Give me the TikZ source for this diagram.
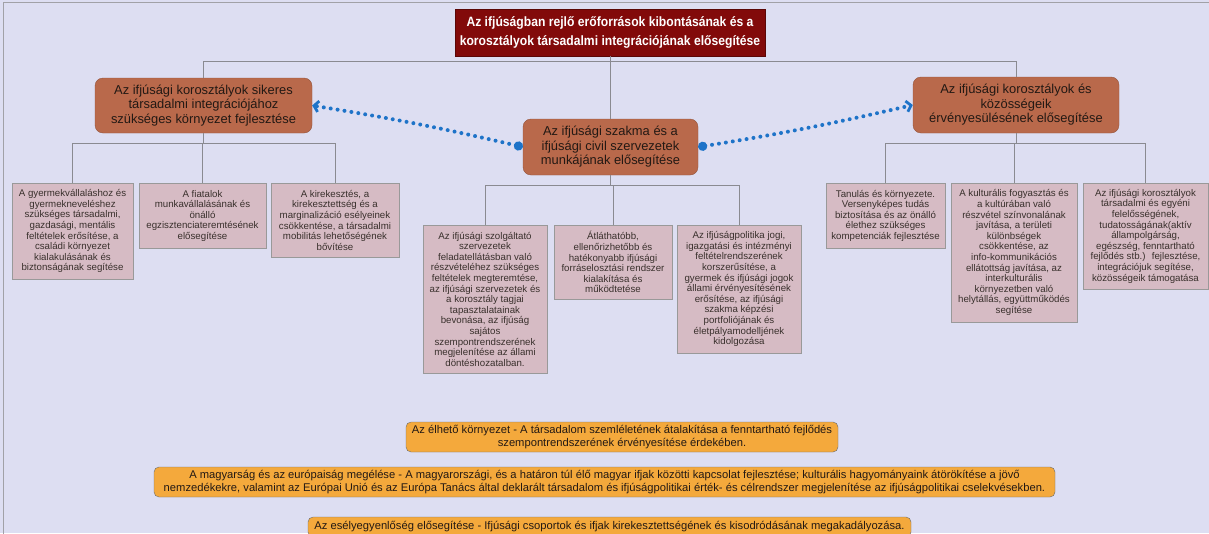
\documentclass[tikz,border=0pt]{standalone}
\usepackage{fontspec}
\setmainfont{Liberation Sans}
\newfontfamily\topfont[FakeStretch=0.9]{Liberation Sans}
\usetikzlibrary{arrows.meta,shadows}
\definecolor{bg}{RGB}{221,222,242}
\definecolor{darkred}{RGB}{130,10,10}
\definecolor{brownbox}{RGB}{185,105,75}
\definecolor{pinkbox}{RGB}{214,187,196}
\definecolor{orangebox}{RGB}{244,169,60}
\definecolor{treeline}{RGB}{138,138,145}
\definecolor{dotblue}{RGB}{30,115,200}
\definecolor{txtdark}{RGB}{35,25,20}
\tikzset{
  topbox/.style={draw=darkred!70!black, fill=darkred, text=white, align=center,
    font=\topfont\bfseries\fontsize{13.5}{19}\selectfont, inner sep=2pt},
  mainbox/.style={draw=brownbox!80!black, fill=brownbox, rounded corners=8pt, text=txtdark,
    align=center, font=\fontsize{12.9}{14.5}\selectfont, inner sep=2pt},
  leafbox/.style={draw=gray!80, fill=pinkbox, text=txtdark!90, align=center, anchor=north,
    font=\fontsize{9.7}{10.6}\selectfont, inner sep=1pt,
    drop shadow={shadow xshift=1.2pt, shadow yshift=-1.2pt, opacity=0.35}},
  goalbox/.style={draw=gray!85!black, fill=orangebox, rounded corners=5pt, text=txtdark,
    align=center, inner sep=1pt, font=\fontsize{11.2}{12.5}\selectfont},
  tree/.style={draw=treeline, line width=0.8pt},
  dotconn/.style={draw=dotblue, line width=4pt, dash pattern=on 0pt off 7pt, line cap=round,
    arrows={Circle[length=9pt,fill=dotblue]-Straight Barb[length=4.5pt,width=11pt,line width=2.8pt]}}
}
\begin{document}
\begin{tikzpicture}[x=1pt,y=-1pt]
\useasboundingbox (0,0) rectangle (1209,533);
\clip (0,0) rectangle (1209,533);
\fill[bg] (0,0) rectangle (1209,533);
\draw[treeline!80] (3.5,540) -- (3.5,2.5) -- (1209,2.5);

% main nodes
\node[topbox, minimum width=310, minimum height=47] (top) at (610,32.5)
  {Az ifjúságban rejlő erőforrások kibontásának és a\\korosztályok társadalmi integrációjának elősegítése};
\node[mainbox, minimum width=217, minimum height=55] (L) at (203.5,105.5)
  {Az ifjúsági korosztályok sikeres\\társadalmi integrációjához\\szükséges környezet fejlesztése};
\node[mainbox, minimum width=175, minimum height=56] (C) at (610.5,147)
  {Az ifjúsági szakma és a\\ifjúsági civil szervezetek\\munkájának elősegítése};
\node[mainbox, minimum width=206, minimum height=56] (R) at (1016,105)
  {Az ifjúsági korosztályok és\\közösségeik\\érvényesülésének elősegítése};

% leaf nodes
\node[leafbox, minimum width=121, minimum height=96] (L1) at (72.5,183)
  {A gyermekvállaláshoz és\\gyermekneveléshez\\szükséges társadalmi,\\gazdasági, mentális\\feltételek erősítése, a\\családi környezet\\kialakulásának és\\biztonságának segítése};
\node[leafbox, minimum width=127, minimum height=65] (L2) at (202.5,183)
  {A fiatalok\\munkavállalásának és\\önálló\\egzisztenciateremtésének\\elősegítése};
\node[leafbox, minimum width=128, minimum height=74] (L3) at (335,183)
  {A kirekesztés, a\\kirekesztettség és a\\marginalizáció esélyeinek\\csökkentése, a társadalmi\\mobilitás lehetőségének\\bővítése};
\node[leafbox, minimum width=124, minimum height=148] (C1) at (485,225)
  {Az ifjúsági szolgáltató\\szervezetek\\feladatellátásban való\\részvételéhez szükséges\\feltételek megteremtése,\\az ifjúsági szervezetek és\\a korosztály tagjai\\tapasztalatainak\\bevonása, az ifjúság\\sajátos\\szempontrendszerének\\megjelenítése az állami\\döntéshozatalban.};
\node[leafbox, minimum width=118, minimum height=74] (C2) at (613,225)
  {Átláthatóbb,\\ellenőrizhetőbb és\\hatékonyabb ifjúsági\\forráselosztási rendszer\\kialakítása és\\működtetése};
\node[leafbox, minimum width=124, minimum height=128] (C3) at (739,225)
  {Az ifjúságpolitika jogi,\\igazgatási és intézményi\\feltételrendszerének\\korszerűsítése, a\\gyermek és ifjúsági jogok\\állami érvényesítésének\\erősítése, az ifjúsági\\szakma képzési\\portfoliójának és\\életpályamodelljének\\kidolgozása};
\node[leafbox, minimum width=119, minimum height=65] (R1) at (885.5,183)
  {Tanulás és környezete.\\Versenyképes tudás\\biztosítása és az önálló\\élethez szükséges\\kompetenciák fejlesztése};
\node[leafbox, minimum width=126, minimum height=139] (R2) at (1014,183)
  {A kulturális fogyasztás és\\a kultúrában való\\részvétel színvonalának\\javítása, a területi\\különbségek\\csökkentése, az\\info-kommunikációs\\ellátottság javítása, az\\interkulturális\\környezetben való\\helytállás, együttműködés\\segítése};
\node[leafbox, minimum width=125, minimum height=106] (R3) at (1145.5,183)
  {Az ifjúsági korosztályok\\társadalmi és egyéni\\felelősségének,\\tudatosságának(aktív\\állampolgárság,\\egészség, fenntartható\\fejlődés stb.)~ fejlesztése,\\integrációjuk segítése,\\közösségeik támogatása};

% goal boxes
\node[goalbox, minimum width=432, minimum height=30] (O1) at (622,437)
  {Az élhető környezet - A társadalom szemléletének átalakítása a fenntartható fejlődés\\szempontrendszerének érvényesítése érdekében.};
\node[goalbox, minimum width=901, minimum height=30] (O2) at (604.5,482)
  {A magyarság és az európaiság megélése - A magyarországi, és a határon túl élő magyar ifjak közötti kapcsolat fejlesztése; kulturális hagyományaink átörökítése a jövő\\nemzedékekre, valamint az Európai Unió és az Európa Tanács által deklarált társadalom és ifjúságpolitikai érték- és célrendszer megjelenítése az ifjúságpolitikai cselekvésekben.};
\node[goalbox, minimum width=603, minimum height=20] (O3) at (609.5,527)
  {Az esélyegyenlőség elősegítése - Ifjúsági csoportok és ifjak kirekesztettségének és kisodródásának megakadályozása.};

% tree connectors
\draw[tree] (top.south) -- (top.south |- C.north);
\draw[tree] (L.north) -- ++(0,-16) -| (R.north);
\draw[tree] (L.south) -- ++(0,10) coordinate (lb);
\draw[tree] (L1.north) |- (lb) -| (L3.north);
\draw[tree] (L2.north) -- (L2.north |- lb);
\draw[tree] (C.south) -- ++(0,10) coordinate (cb);
\draw[tree] (C1.north) |- (cb) -| (C3.north);
\draw[tree] (C2.north) -- (C2.north |- cb);
\draw[tree] (R.south) -- ++(0,10) coordinate (rb);
\draw[tree] (R1.north) |- (rb) -| (R3.north);
\draw[tree] (R2.north) -- (R2.north |- rb);

% dotted associations
\draw[dotconn] (C.west) to[bend right=2] (L.east);
\draw[dotconn] (C.east) to[bend right=2] (R.west);
\end{tikzpicture}
\end{document}
